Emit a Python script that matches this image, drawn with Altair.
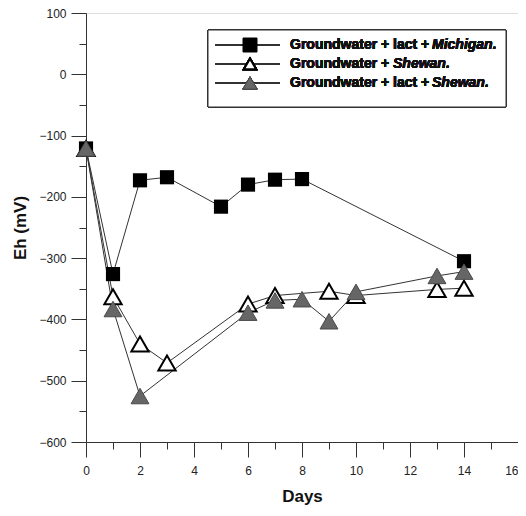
import altair as alt
import pandas as pd

# Data
days_mich = [0, 1, 2, 3, 5, 6, 7, 8, 14]
eh_mich = [-121, -326, -173, -168, -216, -180, -172, -171, -305]

days_shew = [0, 1, 2, 3, 6, 7, 9, 10, 13, 14]
eh_shew = [-121, -363, -440, -471, -375, -361, -354, -361, -351, -349]

days_lact = [0, 1, 2, 6, 7, 8, 9, 10, 13, 14]
eh_lact = [-121, -383, -525, -389, -369, -367, -403, -355, -329, -322]

x_major = [0, 2, 4, 6, 8, 10, 12, 14, 16]
x_minor = [1, 3, 5, 7, 9, 11, 13, 15]
y_major = [100, 0, -100, -200, -300, -400, -500, -600]
y_minor = [50, -50, -150, -250, -350, -450, -550]

df_m = pd.DataFrame({"day": days_mich, "eh": eh_mich, "series": "mich"})
df_s = pd.DataFrame({"day": days_shew, "eh": eh_shew, "series": "shew"})
df_l = pd.DataFrame({"day": days_lact, "eh": eh_lact, "series": "lact"})

FONT = "Liberation Sans"
AX = "#333333"

xscale = alt.Scale(domain=[0, 16], nice=False, zero=False)
yscale = alt.Scale(domain=[-600, 100], nice=False, zero=False)

x_axis_major = alt.Axis(values=x_major, tickSize=15, labelPadding=8, labelFontSize=12,
                        labelFont=FONT, labelColor="#222222", title="Days", titleFont=FONT,
                        titleFontSize=17, titleFontWeight="bold", titleColor="#111111",
                        titlePadding=12, grid=False, domainColor=AX, tickColor=AX,
                        orient="bottom", format="d",
                        labelAlign=alt.condition("datum.value == 16", alt.value("right"),
                                                 alt.value("center")))
y_axis_major = alt.Axis(values=y_major, tickSize=15, labelPadding=5, labelFontSize=12,
                        labelFont=FONT, labelColor="#222222", title="Eh (mV)", titleFont=FONT,
                        titleFontSize=17, titleFontWeight="bold", titleColor="#111111",
                        titlePadding=9, grid=False, domainColor=AX, tickColor=AX,
                        orient="left", format="d")
x_axis_minor = alt.Axis(values=x_minor, tickSize=7, labels=False, domain=False, title="",
                        grid=False, tickColor=AX, orient="bottom")
y_axis_minor = alt.Axis(values=y_minor, tickSize=7, labels=False, domain=False, title="",
                        grid=False, tickColor=AX, orient="left")


def enc(d, xa=None, ya=None):
    xkw = {"scale": xscale}
    ykw = {"scale": yscale}
    if xa is not None:
        xkw["axis"] = xa
    if ya is not None:
        ykw["axis"] = ya
    return dict(x=alt.X("day:Q", **xkw), y=alt.Y("eh:Q", **ykw))


line_m = alt.Chart(df_m).mark_line(color=AX, strokeWidth=1).encode(**enc(df_m, x_axis_major, y_axis_major))
line_s = alt.Chart(df_s).mark_line(color=AX, strokeWidth=1).encode(**enc(df_s))
line_l = alt.Chart(df_l).mark_line(color=AX, strokeWidth=1).encode(**enc(df_l))

pt_m = alt.Chart(df_m).mark_point(shape="square", filled=True, size=200, color="#000000",
                                  opacity=1).encode(**enc(df_m))
pt_s = alt.Chart(df_s).mark_point(shape="triangle-up", filled=True, size=300, fill="#ffffff",
                                  stroke="#000000", strokeWidth=2, opacity=1).encode(**enc(df_s))
pt_l = alt.Chart(df_l).mark_point(shape="triangle-up", filled=True, size=320, fill="#666666",
                                  stroke="#4a4a4a", strokeWidth=1, opacity=1).encode(**enc(df_l))

minor = alt.Chart(df_m).mark_point(opacity=0).encode(**enc(df_m, x_axis_minor, y_axis_minor))

main = alt.layer(line_m, line_s, line_l, pt_m, pt_s, pt_l)

# Custom legend (pixel positions inside the plot area)
leg_box = alt.Chart(df_m).mark_rect(fill="#ffffff", stroke=AX, strokeWidth=1).encode(
    x=alt.value(122), x2=alt.value(420), y=alt.value(17), y2=alt.value(94))
rows_y = [32, 51, 70]
leg_lines = [alt.Chart(df_m).mark_rule(color=AX, strokeWidth=1).encode(
    x=alt.value(129), x2=alt.value(194), y=alt.value(yy)) for yy in rows_y]
leg_m = alt.Chart(df_m).mark_point(shape="square", filled=True, size=200, color="#000000",
                                   opacity=1).encode(x=alt.value(164), y=alt.value(rows_y[0]))
leg_s = alt.Chart(df_m).mark_point(shape="triangle-up", filled=True, size=150, fill="#ffffff",
                                   stroke="#000000", strokeWidth=2, opacity=1).encode(
    x=alt.value(164), y=alt.value(rows_y[1]))
leg_l = alt.Chart(df_m).mark_point(shape="triangle-up", filled=True, size=200, fill="#666666",
                                   stroke="#4a4a4a", strokeWidth=1, opacity=1).encode(
    x=alt.value(164), y=alt.value(rows_y[2]))

legend_plain = ["Groundwater + lact + ", "Groundwater + ", "Groundwater + lact + "]
legend_italic = ["Michigan.", "Shewan.", "Shewan."]
italic_x = [346, 307, 346]

txt = []
for i in range(3):
    txt.append(alt.Chart(df_m).mark_text(text=legend_plain[i], align="left", baseline="middle",
                                         font=FONT, fontSize=14, fontWeight="bold", color="#111111")
               .encode(x=alt.value(204), y=alt.value(rows_y[i])))
    txt.append(alt.Chart(df_m).mark_text(text=legend_italic[i], align="left", baseline="middle",
                                         font=FONT, fontSize=14, fontWeight="bold", fontStyle="italic",
                                         color="#111111")
               .encode(x=alt.value(italic_x[i]), y=alt.value(rows_y[i])))

legend = alt.layer(leg_box, *leg_lines, leg_m, leg_s, leg_l, *txt)

chart = alt.layer(main, minor, legend).resolve_axis(x="independent", y="independent").properties(
    width=432, height=429,
    autosize=alt.AutoSizeParams(type="none"),
    padding={"left": 78, "top": 5, "right": 0, "bottom": 66},
).configure_view(stroke=None).configure(background="#ffffff")

chart.save("out.html", embed_options={"renderer": "svg", "actions": False})
